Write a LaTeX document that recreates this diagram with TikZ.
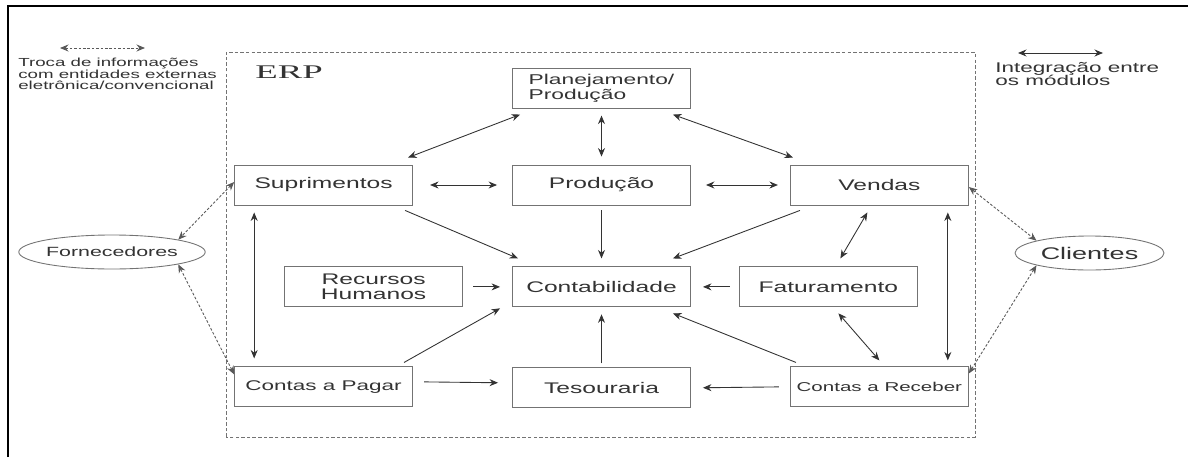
\documentclass[tikz,border=0pt]{standalone}
\usepackage{fontspec}
\setmainfont[FakeStretch=1.6]{Liberation Sans}
\newfontfamily\erpfont[FakeStretch=1.9]{Liberation Serif}
\usetikzlibrary{positioning,shapes.geometric,arrows.meta}

\begin{document}
\begin{tikzpicture}[
                    >={Stealth[length=1.7mm,width=1.4mm]},
                    modnode/.style={rectangle, draw=black!55, text=black!80, line width=0.5pt, minimum width=3.56cm, minimum height=0.8cm, inner sep=0pt, font=\fontsize{8.75pt}{10pt}\selectfont},
                    extnode/.style={ellipse, draw=black!55, text=black!80, line width=0.5pt, minimum width=2.96cm, minimum height=0.68cm, inner sep=0pt},
                    intlink/.style={<->, black!80, line width=0.5pt},
                    oneway/.style={->, black!80, line width=0.5pt},
                    extlink/.style={<->, black!65, dash pattern=on 1.5pt off 1pt, line width=0.5pt},
                ]
                    \useasboundingbox (0,0) rectangle (23.76,9.14);

                    %Frame
                    \draw[line width=1.3pt] (0.16,0) -- (0.16,9.02) -- (23.76,9.02);
                    \draw[black!55, dash pattern=on 2pt off 1.2pt] (4.52,0.40) rectangle (19.5,8.10);
                    \node[text=black!80, font=\erpfont\fontsize{11pt}{11pt}\selectfont](erp) at (5.78,7.70) {ERP};

                    %Legend
                    \coordinate (trocaA) at (1.2,8.18);
                    \coordinate (trocaB) at (2.9,8.18);
                    \draw[extlink](trocaA) -- (trocaB);
                    \node[anchor=north west, inner sep=0pt, align=left, text=black!80, font=\fontsize{6.65pt}{6.4pt}\selectfont](troca) at (0.36,7.98) {Troca de informações\\com entidades externas\\eletrônica/convencional};
                    \coordinate (integA) at (20.36,8.08);
                    \coordinate (integB) at (22.06,8.08);
                    \draw[intlink](integA) -- (integB);
                    \node[anchor=north west, inner sep=0pt, align=left, text=black!80, font=\fontsize{8pt}{7.6pt}\selectfont](integ) at (19.9,7.90) {Integração entre\\os módulos};

                    %Nodes
                    \node[modnode](prod) at (12.03,5.44) {Produção};
                    \node[modnode, align=left, font=\fontsize{8.1pt}{7.5pt}\selectfont](plan)[above=1.12cm of prod] {Planejamento/\\Produção};
                    \node[modnode](supr)[left=1.98cm of prod] {Suprimentos};
                    \node[modnode](vendas)[right=1.98cm of prod] {Vendas};
                    \node[modnode](contab)[below=1.22cm of prod] {Contabilidade};
                    \node[modnode, align=center, font=\fontsize{8.75pt}{8.5pt}\selectfont](rh)[left=0.98cm of contab] {Recursos\\Humanos};
                    \node[modnode](fat)[right=0.96cm of contab] {Faturamento};
                    \node[modnode](tes)[below=1.2cm of contab] {Tesouraria};
                    \node[modnode, font=\fontsize{8pt}{9pt}\selectfont](pag)[below=3.22cm of supr] {Contas a Pagar};
                    \node[modnode, font=\fontsize{7.3pt}{9pt}\selectfont](rec)[below=3.22cm of vendas] {Contas a Receber};
                    \node[extnode, font=\fontsize{7.6pt}{9pt}\selectfont](forn) at (2.24,4.10) {Fornecedores};
                    \node[extnode, minimum width=2.98cm, font=\fontsize{9.6pt}{10pt}\selectfont](cli) at (21.79,4.08) {Clientes};

                    %Lines
                    \draw[intlink]([xshift=0.16cm,yshift=-0.12cm]plan.south west) -- ([xshift=-0.1cm,yshift=0.14cm]supr.north east);
                    \draw[intlink]([yshift=-0.14cm]plan.south) -- ([yshift=0.16cm]prod.north);
                    \draw[intlink]([xshift=-0.36cm,yshift=-0.12cm]plan.south east) -- ([xshift=0.06cm,yshift=0.14cm]vendas.north west);
                    \draw[intlink]([xshift=0.34cm]supr.east) -- ([xshift=-0.3cm]prod.west);
                    \draw[intlink]([xshift=0.3cm]prod.east) -- ([xshift=-0.24cm]vendas.west);
                    \draw[oneway]([xshift=-0.16cm,yshift=-0.1cm]supr.south east) -- ([xshift=0.12cm,yshift=0.16cm]contab.north west);
                    \draw[oneway]([yshift=-0.1cm]prod.south) -- ([yshift=0.16cm]contab.north);
                    \draw[oneway]([xshift=0.2cm,yshift=-0.1cm]vendas.south west) -- ([xshift=-0.36cm,yshift=0.16cm]contab.north east);
                    \draw[intlink]([xshift=-0.24cm,yshift=-0.14cm]vendas.south) -- ([xshift=0.24cm,yshift=0.16cm]fat.north);
                    \draw[intlink]([xshift=-0.42cm,yshift=-0.14cm]vendas.south east) -- ([xshift=-0.42cm,yshift=0.12cm]rec.north east);
                    \draw[intlink]([xshift=0.4cm,yshift=-0.14cm]supr.south west) -- ([xshift=0.4cm,yshift=0.16cm]pag.north west);
                    \draw[oneway]([xshift=0.2cm]rh.east) -- ([xshift=-0.24cm]contab.west);
                    \draw[oneway]([xshift=-0.18cm]fat.west) -- ([xshift=0.24cm]contab.east);
                    \draw[oneway]([xshift=-0.18cm,yshift=0.08cm]pag.north east) -- ([xshift=-0.24cm,yshift=-0.02cm]contab.south west);
                    \draw[oneway]([yshift=0.08cm]tes.north) -- ([yshift=-0.14cm]contab.south);
                    \draw[oneway]([xshift=0.12cm,yshift=0.08cm]rec.north west) -- ([xshift=-0.36cm,yshift=-0.12cm]contab.south east);
                    \draw[intlink]([xshift=0.2cm,yshift=-0.12cm]fat.south) -- ([yshift=0.12cm]rec.north);
                    \draw[oneway]([xshift=0.22cm,yshift=0.1cm]pag.east) -- ([xshift=-0.28cm,yshift=0.1cm]tes.west);
                    \draw[oneway]([xshift=-0.22cm]rec.west) -- ([xshift=0.24cm]tes.east);

                    %External
                    \draw[extlink]([yshift=0.06cm]supr.west) -- (forn.north east);
                    \draw[extlink]([yshift=-0.16cm]pag.north west) -- (forn.south east);
                    \draw[extlink]([yshift=-0.04cm]vendas.east) -- (cli.north west);
                    \draw[extlink]([yshift=-0.14cm]rec.north east) -- (cli.south west);
                \end{tikzpicture}
\end{document}
